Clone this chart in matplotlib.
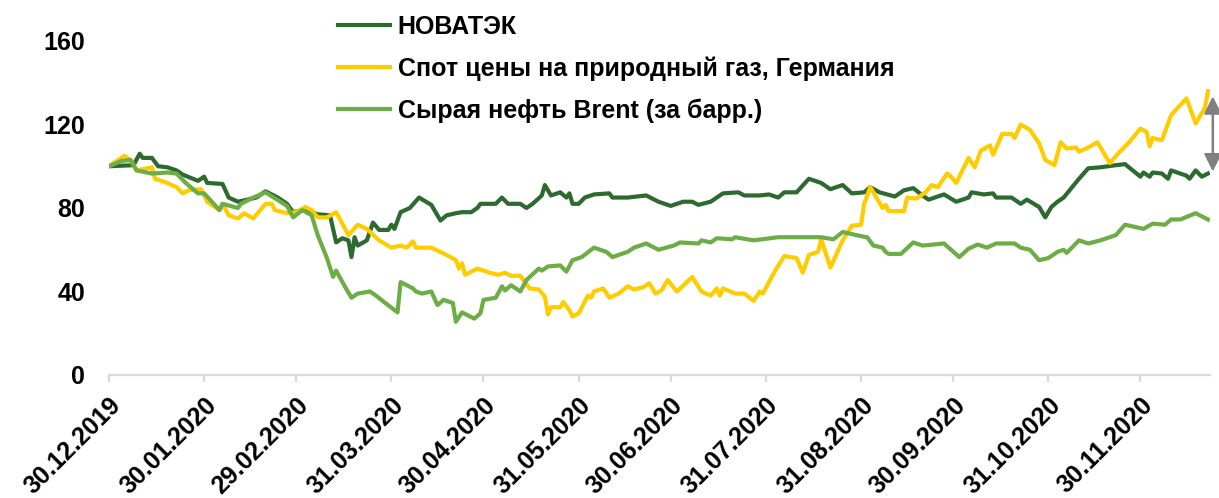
import pandas as pd
import matplotlib
matplotlib.use("Agg")
import matplotlib.pyplot as plt

plt.rcParams['font.family'] = ['Liberation Sans', 'DejaVu Sans']
plt.rcParams['font.weight'] = 'bold'
plt.rcParams['font.size'] = 18

labels = ["НОВАТЭК", "Спот цены на природный газ, Германия", "Сырая нефть Brent (за барр.)"]
colors = ["#2C6A30", "#FFCC00", "#6DAD46"]

# НОВАТЭК
nvtk_dates = ["2019-12-30", "2020-01-07", "2020-01-09", "2020-01-10", "2020-01-13", "2020-01-15", "2020-01-18",
              "2020-01-21", "2020-01-23", "2020-01-28", "2020-01-30", "2020-01-31", "2020-02-05", "2020-02-07",
              "2020-02-10", "2020-02-13", "2020-02-16", "2020-02-19", "2020-02-23", "2020-02-26", "2020-02-28",
              "2020-03-02", "2020-03-05", "2020-03-07", "2020-03-11", "2020-03-13", "2020-03-15", "2020-03-17",
              "2020-03-18", "2020-03-19", "2020-03-20", "2020-03-23", "2020-03-25", "2020-03-27", "2020-03-30",
              "2020-03-31", "2020-04-01", "2020-04-03", "2020-04-06", "2020-04-09", "2020-04-13", "2020-04-16",
              "2020-04-18", "2020-04-21", "2020-04-23", "2020-04-26", "2020-04-28", "2020-04-29", "2020-05-02",
              "2020-05-04", "2020-05-06", "2020-05-08", "2020-05-12", "2020-05-14", "2020-05-16", "2020-05-19",
              "2020-05-20", "2020-05-22", "2020-05-25", "2020-05-27", "2020-05-28", "2020-05-29", "2020-05-31",
              "2020-06-02", "2020-06-05", "2020-06-10", "2020-06-11", "2020-06-16", "2020-06-22", "2020-06-26",
              "2020-06-30", "2020-07-04", "2020-07-07", "2020-07-09", "2020-07-13", "2020-07-17", "2020-07-22",
              "2020-07-24", "2020-07-29", "2020-08-01", "2020-08-04", "2020-08-06", "2020-08-10", "2020-08-14",
              "2020-08-18", "2020-08-21", "2020-08-25", "2020-08-28", "2020-09-01", "2020-09-03", "2020-09-06",
              "2020-09-11", "2020-09-14", "2020-09-17", "2020-09-20", "2020-09-22", "2020-09-27", "2020-10-01",
              "2020-10-05", "2020-10-06", "2020-10-10", "2020-10-13", "2020-10-14", "2020-10-19", "2020-10-22",
              "2020-10-24", "2020-10-28", "2020-10-30", "2020-11-01", "2020-11-03", "2020-11-05", "2020-11-10",
              "2020-11-13", "2020-11-17", "2020-11-22", "2020-11-25", "2020-11-30", "2020-12-01", "2020-12-03",
              "2020-12-04", "2020-12-07", "2020-12-09", "2020-12-10", "2020-12-15", "2020-12-16", "2020-12-18",
              "2020-12-20", "2020-12-22"]
nvtk_vals = [100, 100.5, 106, 104, 104, 100, 99.5,
             98, 96, 93, 95, 92, 91.5, 85,
             83, 84, 85, 88, 85, 82, 78,
             79, 78, 77, 76.5, 63.5, 65.5, 64.5,
             56.5, 66, 62, 64.5, 73, 69.5, 69.5,
             72, 70, 78, 80, 85, 81.5, 74,
             76.5, 77.5, 78, 78, 80, 82, 82,
             82, 85, 82, 82, 80, 82, 86,
             91, 86, 87.5, 85, 87, 82, 82,
             85, 86.5, 87, 85, 85, 86, 83,
             81, 83, 83, 81.5, 83, 87, 87.5,
             86, 86, 86.5, 85, 87.5, 87.5, 94,
             92, 89, 91, 87, 87.5, 90, 87.5,
             85.5, 88.5, 89.5, 86, 84, 86.5, 83,
             85, 87.5, 86.5, 87, 85, 85, 82,
             84, 80.5, 75.5, 80.5, 83, 85, 94,
             99, 99.5, 100.5, 101, 95, 97, 95,
             97, 96.5, 94, 98, 95.5, 94, 98,
             95, 96.5]

# Спот цены на газ, Германия
gas_dates = ["2019-12-30", "2020-01-04", "2020-01-06", "2020-01-08", "2020-01-13", "2020-01-14", "2020-01-18",
             "2020-01-21", "2020-01-23", "2020-01-25", "2020-01-29", "2020-01-31", "2020-02-04", "2020-02-05",
             "2020-02-07", "2020-02-10", "2020-02-12", "2020-02-15", "2020-02-19", "2020-02-21", "2020-02-22",
             "2020-02-26", "2020-02-29", "2020-03-03", "2020-03-05", "2020-03-07", "2020-03-10", "2020-03-13",
             "2020-03-17", "2020-03-20", "2020-03-23", "2020-03-27", "2020-03-31", "2020-04-03", "2020-04-05",
             "2020-04-07", "2020-04-08", "2020-04-13", "2020-04-18", "2020-04-21", "2020-04-22", "2020-04-23",
             "2020-04-24", "2020-04-28", "2020-05-02", "2020-05-05", "2020-05-07", "2020-05-09", "2020-05-12",
             "2020-05-13", "2020-05-15", "2020-05-18", "2020-05-20", "2020-05-21", "2020-05-22", "2020-05-25",
             "2020-05-26", "2020-05-28", "2020-05-29", "2020-05-31", "2020-06-03", "2020-06-04", "2020-06-05",
             "2020-06-08", "2020-06-10", "2020-06-13", "2020-06-16", "2020-06-18", "2020-06-21", "2020-06-23",
             "2020-06-25", "2020-06-27", "2020-06-29", "2020-07-02", "2020-07-07", "2020-07-10", "2020-07-13",
             "2020-07-15", "2020-07-16", "2020-07-17", "2020-07-21", "2020-07-24", "2020-07-27", "2020-07-29",
             "2020-07-30", "2020-08-03", "2020-08-06", "2020-08-10", "2020-08-12", "2020-08-14", "2020-08-17",
             "2020-08-18", "2020-08-21", "2020-08-25", "2020-08-28", "2020-08-31", "2020-09-01", "2020-09-03",
             "2020-09-05", "2020-09-07", "2020-09-08", "2020-09-09", "2020-09-14", "2020-09-15", "2020-09-18",
             "2020-09-21", "2020-09-23", "2020-09-25", "2020-09-28", "2020-09-29", "2020-10-01", "2020-10-05",
             "2020-10-07", "2020-10-09", "2020-10-12", "2020-10-13", "2020-10-16", "2020-10-19", "2020-10-20",
             "2020-10-22", "2020-10-25", "2020-10-28", "2020-10-30", "2020-11-02", "2020-11-04", "2020-11-06",
             "2020-11-09", "2020-11-10", "2020-11-13", "2020-11-16", "2020-11-20", "2020-11-23", "2020-11-26",
             "2020-11-30", "2020-12-02", "2020-12-03", "2020-12-04", "2020-12-07", "2020-12-10", "2020-12-15",
             "2020-12-18", "2020-12-21", "2020-12-22"]
gas_vals = [100, 105, 103, 98, 99.5, 94, 92,
            90, 87, 88.5, 89, 83, 79, 82,
            76.5, 75, 77.5, 75, 82, 82, 79,
            77.5, 78, 80.5, 79, 75.5, 75.5, 78,
            67, 72, 70, 64.5, 61, 62, 61,
            64, 61, 61, 57.5, 55, 51, 53.5,
            48, 51, 49, 48, 49, 47.5, 47.5,
            45.5, 41.5, 41, 37.5, 29, 32.5, 32.5,
            35, 31, 28, 29.5, 38, 37, 40,
            41.5, 37, 39, 42.5, 41, 42, 44,
            39, 40.5, 45.5, 40, 47, 40, 38,
            41.5, 38, 41.5, 39, 39, 35.5, 40,
            39, 50, 57, 56, 49, 57.5, 59,
            65, 51.5, 64.5, 71.5, 72, 82, 90,
            85, 80, 81.5, 78.5, 78.5, 85, 84.5,
            87.5, 91, 90, 96.5, 95.5, 92, 104,
            99.5, 107.5, 110, 105.5, 115.5, 115.5, 113.5,
            120, 117.5, 111, 103, 100.5, 111.5, 108.5,
            109, 107, 109, 111.5, 101.5, 106.5, 111,
            118, 116.5, 109.5, 113.5, 112.5, 124.5, 132.5,
            120.5, 128, 136]

# Сырая нефть Brent
brent_dates = ["2019-12-30", "2020-01-03", "2020-01-06", "2020-01-08", "2020-01-13", "2020-01-18", "2020-01-21",
               "2020-01-24", "2020-01-28", "2020-01-30", "2020-02-04", "2020-02-05", "2020-02-10", "2020-02-11",
               "2020-02-15", "2020-02-19", "2020-02-26", "2020-02-28", "2020-03-02", "2020-03-05", "2020-03-07",
               "2020-03-10", "2020-03-12", "2020-03-13", "2020-03-16", "2020-03-18", "2020-03-20", "2020-03-24",
               "2020-03-26", "2020-03-29", "2020-04-02", "2020-04-03", "2020-04-07", "2020-04-08", "2020-04-10",
               "2020-04-13", "2020-04-15", "2020-04-17", "2020-04-20", "2020-04-21", "2020-04-23", "2020-04-27",
               "2020-04-29", "2020-04-30", "2020-05-04", "2020-05-06", "2020-05-07", "2020-05-09", "2020-05-12",
               "2020-05-14", "2020-05-18", "2020-05-19", "2020-05-21", "2020-05-25", "2020-05-27", "2020-05-29",
               "2020-06-01", "2020-06-05", "2020-06-09", "2020-06-11", "2020-06-16", "2020-06-18", "2020-06-22",
               "2020-06-26", "2020-07-01", "2020-07-03", "2020-07-09", "2020-07-10", "2020-07-13", "2020-07-15",
               "2020-07-20", "2020-07-21", "2020-07-27", "2020-08-04", "2020-08-12", "2020-08-18", "2020-08-22",
               "2020-08-25", "2020-08-31", "2020-09-02", "2020-09-04", "2020-09-07", "2020-09-08", "2020-09-09",
               "2020-09-13", "2020-09-17", "2020-09-20", "2020-09-27", "2020-10-02", "2020-10-05", "2020-10-08",
               "2020-10-11", "2020-10-14", "2020-10-20", "2020-10-22", "2020-10-25", "2020-10-28", "2020-10-31",
               "2020-11-03", "2020-11-05", "2020-11-06", "2020-11-10", "2020-11-13", "2020-11-17", "2020-11-22",
               "2020-11-25", "2020-12-01", "2020-12-04", "2020-12-08", "2020-12-10", "2020-12-13", "2020-12-18",
               "2020-12-22"]
brent_vals = [100, 102.5, 103, 98, 96.5, 97, 96.5,
              92, 87, 87, 79, 82, 80, 82,
              85, 87.5, 81, 75.5, 79, 76.5, 67,
              56, 47, 50, 42, 37, 39, 40,
              38, 34.5, 30, 44.5, 41.5, 40, 39,
              40, 33.5, 36, 34.5, 25.5, 30, 27,
              29.5, 36, 37, 42.5, 40.5, 43, 40,
              45.5, 51, 50, 52, 52.5, 49.5, 55,
              56.5, 61, 59, 56.5, 59, 61, 63,
              60, 62, 63.5, 63, 64.5, 63.5, 65.5,
              65, 66, 64.5, 66, 66, 66, 65,
              68.5, 66.5, 66, 62, 61, 59, 58,
              58, 63.5, 62, 63, 56.5, 60.5, 62.5,
              61, 63, 63, 61, 60, 55, 56,
              59, 60, 58.5, 64.5, 63, 64.5, 67,
              72, 70, 72.5, 72, 74.5, 74.5, 77.5,
              74.5]

yticks = [0, 40, 80, 120, 160]
tick_dates = ["2019-12-30", "2020-01-30", "2020-02-29", "2020-03-31", "2020-04-30", "2020-05-31",
              "2020-06-30", "2020-07-31", "2020-08-31", "2020-09-30", "2020-10-31", "2020-11-30"]
tick_labels = ["30.12.2019", "30.01.2020", "29.02.2020", "31.03.2020", "30.04.2020", "31.05.2020",
               "30.06.2020", "31.07.2020", "31.08.2020", "30.09.2020", "31.10.2020", "30.11.2020"]

# стрелка-разрыв справа
arrow_date = "2020-12-23 14:00"
arrow_top = 133.5
arrow_bottom = 97.5

fig = plt.figure(figsize=(12.19, 4.98), dpi=100)
ax = fig.add_axes([0.0894, 0.247, 0.903, 0.6707])

series = [(nvtk_dates, nvtk_vals), (gas_dates, gas_vals), (brent_dates, brent_vals)]
for (d, v), lab, c in zip(series, labels, colors):
    ax.plot(pd.to_datetime(d), v, color=c, lw=3.0, label=lab, solid_joinstyle='round')

ax.set_ylim(0, 160)
ax.set_yticks(yticks)
ax.set_xlim(pd.Timestamp("2019-12-30"), pd.Timestamp("2020-12-22 14:00"))
ax.set_xticks(pd.to_datetime(tick_dates))
ax.set_xticklabels(tick_labels, rotation=45, ha='right', va='top', rotation_mode='anchor')

for s in ['left', 'right', 'top']:
    ax.spines[s].set_visible(False)
ax.spines['bottom'].set_color('#D9D9D9')
ax.spines['bottom'].set_linewidth(1.6)
ax.tick_params(axis='y', length=0, pad=17)
ax.tick_params(axis='x', length=5, width=1.6, color='#D9D9D9', pad=8)

ax.annotate('', xy=(pd.Timestamp(arrow_date), arrow_top), xytext=(pd.Timestamp(arrow_date), arrow_bottom),
            arrowprops=dict(arrowstyle='<|-|>', color='#808080', lw=1.8, mutation_scale=26,
                            shrinkA=0, shrinkB=0), annotation_clip=False)

fig.legend(loc='upper left', bbox_to_anchor=(0.277, 0.97), frameon=False, handlelength=2.1,
           handletextpad=0.3, labelspacing=0.7, borderpad=0, borderaxespad=0)

fig.savefig("out.png", dpi=100)
